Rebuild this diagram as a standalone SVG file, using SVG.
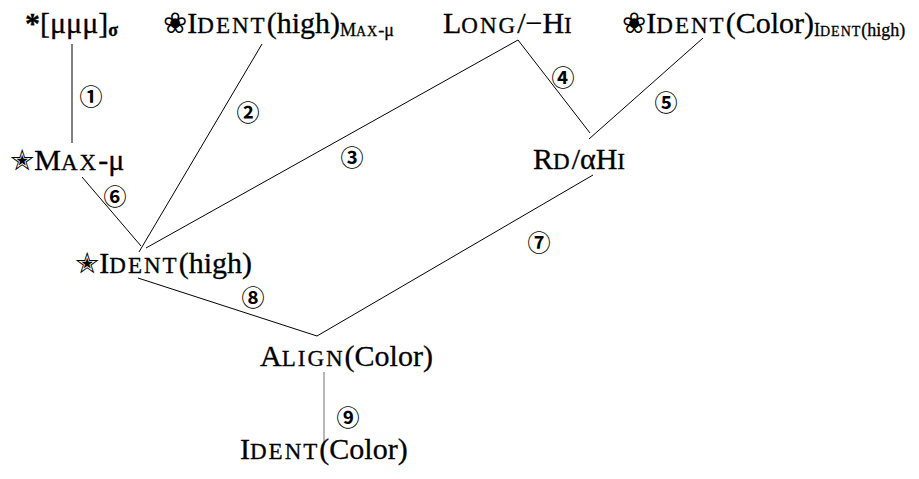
<svg xmlns="http://www.w3.org/2000/svg" width="919" height="479" viewBox="0 0 919 479">
<style>
.t{font-family:"Liberation Serif","DejaVu Serif",serif;font-size:30px;fill:#000;stroke:#000;stroke-width:0.3}
.sc{font-size:23px;letter-spacing:2px}
.sub{font-size:18px}
.subbig{font-size:18px}
.subsc{font-size:14px;letter-spacing:1px}
.sym{font-family:"DejaVu Sans",sans-serif;font-size:29px;stroke-width:0}
.num{font-family:"Noto Sans CJK JP","DejaVu Sans",sans-serif;font-size:23px;font-weight:bold;fill:#000;text-anchor:middle}
.e{stroke:#000;stroke-width:1;fill:none}
.g{stroke:#888;stroke-width:1.2;fill:none}
</style>
<rect width="919" height="479" fill="#fff"/>
<g id="connectors">
<line class="e" x1="72" y1="44" x2="72" y2="143"/>
<line class="e" x1="262" y1="44" x2="139" y2="252"/>
<line class="e" x1="518" y1="40" x2="146" y2="248"/>
<line class="e" x1="518" y1="40" x2="590" y2="133"/>
<line class="e" x1="703" y1="38" x2="589" y2="139"/>
<line class="e" x1="82" y1="177" x2="141" y2="246"/>
<line class="e" x1="593" y1="175" x2="317" y2="336"/>
<line class="e" x1="138" y1="278" x2="317" y2="336"/>
<line class="g" x1="324" y1="372" x2="324" y2="445"/>
</g>
<g id="labels">
<text class="num" x="91" y="105">①</text>
<text class="num" x="248" y="121">②</text>
<text class="num" x="352" y="166">③</text>
<text class="num" x="563" y="86">④</text>
<text class="num" x="666" y="111">⑤</text>
<text class="num" x="115" y="205">⑥</text>
<text class="num" x="539" y="251">⑦</text>
<text class="num" x="253" y="306">⑧</text>
<text class="num" x="348" y="426">⑨</text>
</g>
<g id="n1"><text class="t" x="25" y="33"><tspan font-weight="bold">*</tspan>[μμμ]<tspan class="sub" font-weight="bold" dy="3">σ</tspan></text></g>
<g id="n2"><text class="t" x="163" y="33"><tspan class="sym">❀</tspan>I<tspan class="sc">DENT</tspan>(high)<tspan class="subbig" dy="3">M</tspan><tspan class="subsc">AX</tspan><tspan class="subbig">-μ</tspan></text></g>
<g id="n3"><text class="t" x="443" y="33">L<tspan class="sc">ONG</tspan>/−H<tspan class="sc">I</tspan></text></g>
<g id="n4"><text class="t" x="622" y="33"><tspan class="sym">❀</tspan>I<tspan class="sc">DENT</tspan>(Color)<tspan class="subbig" dy="3">I</tspan><tspan class="subsc">DENT</tspan><tspan class="subbig">(high)</tspan></text></g>
<g id="n5"><text class="t" x="10" y="170"><tspan class="sym">✭</tspan>M<tspan class="sc">AX</tspan>-μ</text></g>
<g id="n6"><text class="t" x="533" y="169">R<tspan class="sc">D</tspan>/αH<tspan class="sc">I</tspan></text></g>
<g id="n7"><text class="t" x="75" y="273"><tspan class="sym">✭</tspan>I<tspan class="sc">DENT</tspan>(high)</text></g>
<g id="n8"><text class="t" x="260" y="366">A<tspan class="sc">LIGN</tspan>(Color)</text></g>
<g id="n9"><text class="t" x="240" y="459">I<tspan class="sc">DENT</tspan>(Color)</text></g>
</svg>
